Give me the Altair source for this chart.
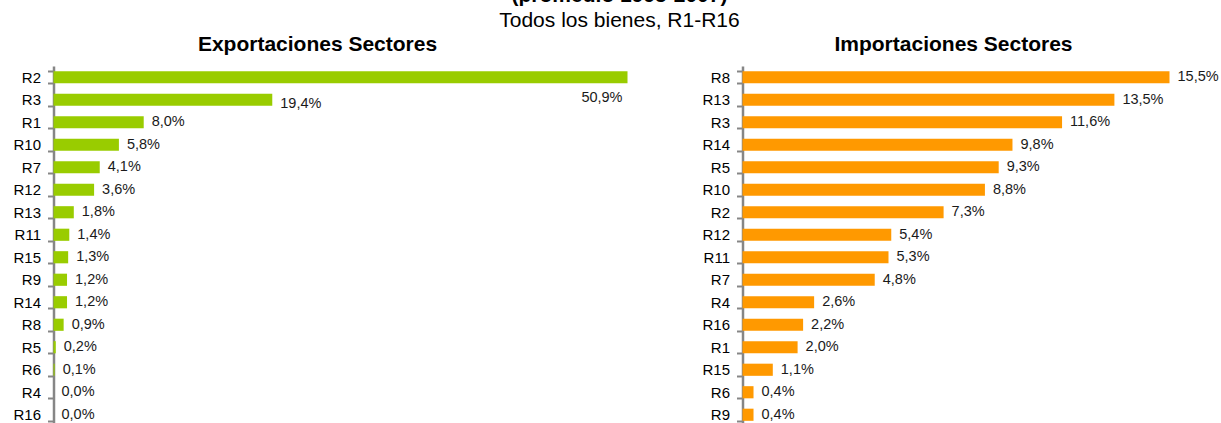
import altair as alt
import pandas as pd

exp_regions = ["R2", "R3", "R1", "R10", "R7", "R12", "R13", "R11", "R15", "R9", "R14", "R8", "R5", "R6", "R4", "R16"]
exp_values = [50.9, 19.4, 8.0, 5.8, 4.1, 3.6, 1.8, 1.4, 1.3, 1.2, 1.2, 0.9, 0.2, 0.1, 0.0, 0.0]
imp_regions = ["R8", "R13", "R3", "R14", "R5", "R10", "R2", "R12", "R11", "R7", "R4", "R16", "R1", "R15", "R6", "R9"]
imp_values = [15.5, 13.5, 11.6, 9.8, 9.3, 8.8, 7.3, 5.4, 5.3, 4.8, 2.6, 2.2, 2.0, 1.1, 0.4, 0.4]

main_title = "(promedio 1995-2007)"
subtitle = "Todos los bienes, R1-R16"
exp_title = "Exportaciones Sectores"
imp_title = "Importaciones Sectores"

FONT = "Liberation Sans"
GREEN = "#99CC00"
ORANGE = "#FF9900"
AXIS_GRAY = "#868686"
TEXT = "#1a1a1a"

exp_df = pd.DataFrame({"region": exp_regions, "value": exp_values})
imp_df = pd.DataFrame({"region": imp_regions, "value": imp_values})

label_expr = "replace(format(datum.value, '.1f'), '.', ',') + '%'"


def yenc(order):
    return alt.Y(
        "region:N",
        sort=order,
        scale=alt.Scale(paddingInner=0.46, paddingOuter=0.23),
        axis=alt.Axis(
            title=None, grid=False,
            domainColor=AXIS_GRAY, domainWidth=2.5,
            tickColor=AXIS_GRAY, tickWidth=2, tickSize=6, tickBand="extent",
            labelFont=FONT, labelFontSize=15, labelColor="#000", labelPadding=7,
        ),
    )


def xenc(maxv):
    return alt.X("value:Q", scale=alt.Scale(domain=[0, maxv], nice=False, zero=True), axis=None)


def text_item(t, x, y, size, weight="normal"):
    return alt.Chart(pd.DataFrame({"t": [t]})).mark_text(
        font=FONT, fontSize=size, fontWeight=weight, color="#000",
        align="center", baseline="alphabetic",
    ).encode(text="t:N", x=alt.value(x), y=alt.value(y))


txt = dict(font=FONT, fontSize=14.5, color=TEXT, baseline="middle")

# Exports panel
base_e = alt.Chart(exp_df).transform_calculate(label=label_expr).encode(
    y=yenc(exp_regions), x=xenc(50.9)
)
bars_e = base_e.mark_bar(color=GREEN)
lab_e = base_e.transform_filter("datum.region != 'R2' && datum.region != 'R3'").mark_text(
    align="left", dx=8, **txt).encode(text="label:N")
lab_e2 = base_e.transform_filter("datum.region == 'R2'").mark_text(
    align="right", dx=-5, dy=21, **txt).encode(text="label:N")
lab_e3 = base_e.transform_filter("datum.region == 'R3'").mark_text(
    align="left", dx=8, dy=4, **txt).encode(text="label:N")
left = alt.layer(
    bars_e, lab_e, lab_e2, lab_e3,
    text_item(main_title, 566, -64.5, 21, "bold"),
    text_item(subtitle, 566, -39.5, 21),
    text_item(exp_title, 264, -14.8, 21, "bold"),
).properties(width=574, height=360)

# Imports panel
base_i = alt.Chart(imp_df).transform_calculate(label=label_expr).encode(
    y=yenc(imp_regions), x=xenc(15.5)
)
bars_i = base_i.mark_bar(color=ORANGE)
lab_i = base_i.mark_text(align="left", dx=8, **txt).encode(text="label:N")
right = alt.layer(
    bars_i, lab_i,
    text_item(imp_title, 211, -14.8, 21, "bold"),
).properties(width=427, height=360)

chart = alt.hconcat(left, right, spacing=115, bounds="flush").properties(
    padding={"left": 12.5, "top": -16, "right": 0, "bottom": -3.5},
    background="white",
).configure_view(stroke=None)

chart.save("out.html", embed_options={"renderer": "svg", "actions": False})
